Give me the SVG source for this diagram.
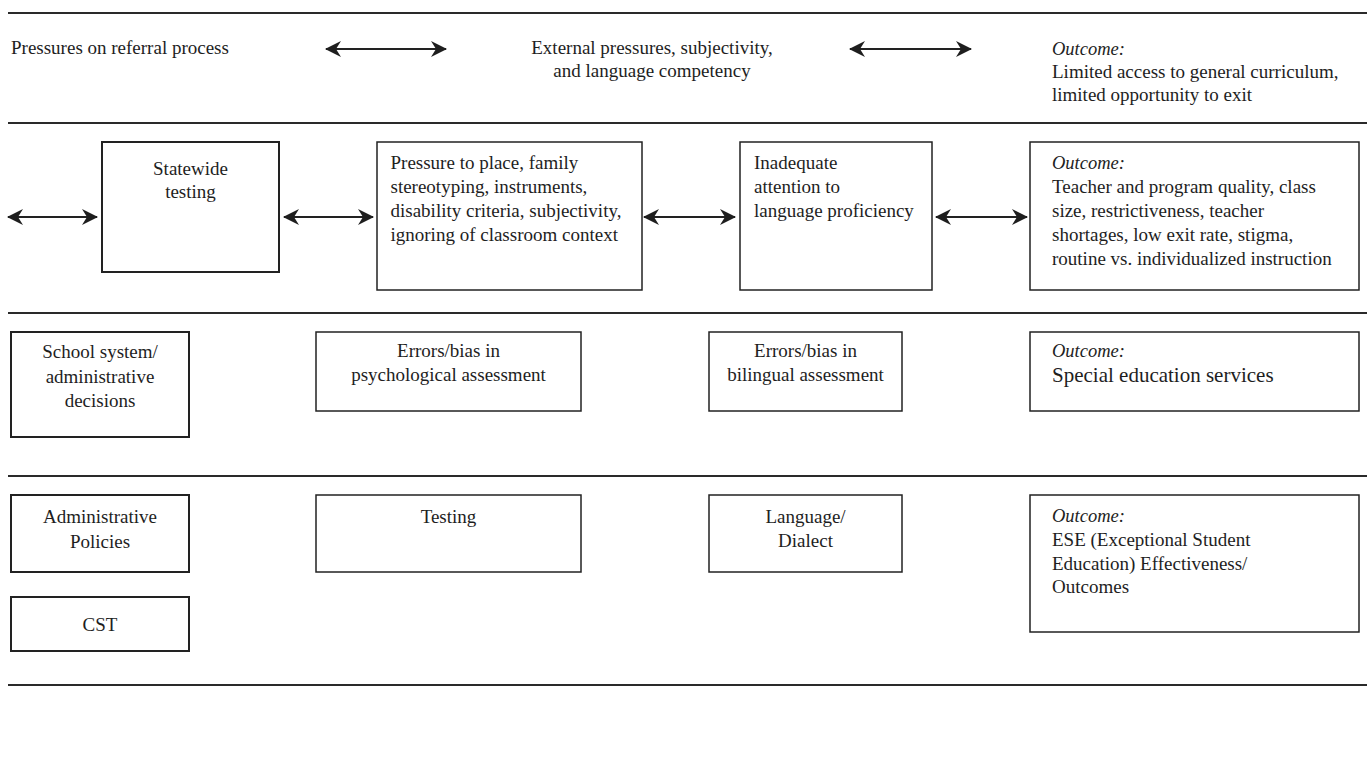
<svg xmlns="http://www.w3.org/2000/svg" width="1367" height="762" viewBox="0 0 1367 762">
<style>
text{font-family:"Liberation Serif","Times New Roman",serif;font-size:19px;fill:#1e1e1e}
.c{text-anchor:middle}
.i{font-style:italic;font-size:18.5px}
.box{fill:#fff;stroke:#222;stroke-width:1.5}
.bx{fill:#fff;stroke:#222;stroke-width:2}
.rule{stroke:#2a2a2a;stroke-width:2.2}
.arr{stroke:#222;stroke-width:1.8;fill:none;marker-start:url(#ah);marker-end:url(#ah)}
</style>
<defs>
<marker id="ah" viewBox="0 0 16 16" refX="15" refY="8" markerWidth="16" markerHeight="16" markerUnits="userSpaceOnUse" orient="auto-start-reverse">
<path d="M16,8 L0,0 L5,8 L0,16 Z" fill="#1e1e1e"/>
</marker>
</defs>
<rect width="1367" height="762" fill="#fff"/>
<g id="rules">
<line class="rule" x1="8" y1="13" x2="1367" y2="13"/>
<line class="rule" x1="8" y1="123" x2="1367" y2="123"/>
<line class="rule" x1="8" y1="313" x2="1367" y2="313"/>
<line class="rule" x1="8" y1="476" x2="1367" y2="476"/>
<line class="rule" x1="8" y1="685" x2="1367" y2="685"/>
</g>
<g id="connectors">
<line class="arr" x1="326" y1="49" x2="446" y2="49"/>
<line class="arr" x1="850" y1="49" x2="971" y2="49"/>
<line class="arr" x1="8" y1="217" x2="97" y2="217"/>
<line class="arr" x1="284" y1="217" x2="373" y2="217"/>
<line class="arr" x1="644" y1="217" x2="735" y2="217"/>
<line class="arr" x1="936" y1="217" x2="1027" y2="217"/>
</g>
<g id="n-pressures"><text x="11" y="54">Pressures on referral process</text></g>
<g id="n-external"><text class="c" x="652" y="54">External pressures, subjectivity,</text><text class="c" x="652" y="77">and language competency</text></g>
<g id="n-outcome1"><text class="i" x="1052" y="55">Outcome:</text><text x="1052" y="78">Limited access to general curriculum,</text><text x="1052" y="101">limited opportunity to exit</text></g>
<g id="n-statewide"><rect class="bx" x="102" y="142" width="177" height="130"/><text class="c" x="190.5" y="175">Statewide</text><text class="c" x="190.5" y="198">testing</text></g>
<g id="n-pressure"><rect class="box" x="377" y="142" width="265" height="148"/><text x="390.5" y="169">Pressure to place, family</text><text x="390.5" y="193">stereotyping, instruments,</text><text x="390.5" y="217">disability criteria, subjectivity,</text><text x="390.5" y="241">ignoring of classroom context</text></g>
<g id="n-inadequate"><rect class="box" x="740" y="142" width="192" height="148"/><text x="754" y="169">Inadequate</text><text x="754" y="193">attention to</text><text x="754" y="217">language proficiency</text></g>
<g id="n-outcome2"><rect class="box" x="1030" y="142" width="329" height="148"/><text class="i" x="1052" y="169">Outcome:</text><text x="1052" y="193">Teacher and program quality, class</text><text x="1052" y="217">size, restrictiveness, teacher</text><text x="1052" y="241">shortages, low exit rate, stigma,</text><text x="1052" y="265">routine vs. individualized instruction</text></g>
<g id="n-school"><rect class="bx" x="11" y="332" width="178" height="105"/><text class="c" x="100" y="358">School system/</text><text class="c" x="100" y="382.5">administrative</text><text class="c" x="100" y="407">decisions</text></g>
<g id="n-errpsych"><rect class="box" x="316" y="332" width="265" height="79"/><text class="c" x="448.5" y="357">Errors/bias in</text><text class="c" x="448.5" y="381">psychological assessment</text></g>
<g id="n-errbil"><rect class="box" x="709" y="332" width="193" height="79"/><text class="c" x="805.5" y="357">Errors/bias in</text><text class="c" x="805.5" y="381">bilingual assessment</text></g>
<g id="n-outcome3"><rect class="box" x="1030" y="332" width="329" height="79"/><text class="i" x="1052" y="357">Outcome:</text><text x="1052" y="382" style="font-size:21px">Special education services</text></g>
<g id="n-admin"><rect class="bx" x="11" y="495" width="178" height="77"/><text class="c" x="100" y="523">Administrative</text><text class="c" x="100" y="548">Policies</text></g>
<g id="n-cst"><rect class="bx" x="11" y="597" width="178" height="54"/><text class="c" x="100" y="631">CST</text></g>
<g id="n-testing"><rect class="box" x="316" y="495" width="265" height="77"/><text class="c" x="448.5" y="523">Testing</text></g>
<g id="n-language"><rect class="box" x="709" y="495" width="193" height="77"/><text class="c" x="805.5" y="523">Language/</text><text class="c" x="805.5" y="546.5">Dialect</text></g>
<g id="n-outcome4"><rect class="box" x="1030" y="495" width="329" height="137"/><text class="i" x="1052" y="522">Outcome:</text><text x="1052" y="546">ESE (Exceptional Student</text><text x="1052" y="569.5">Education) Effectiveness/</text><text x="1052" y="593">Outcomes</text></g>
</svg>
